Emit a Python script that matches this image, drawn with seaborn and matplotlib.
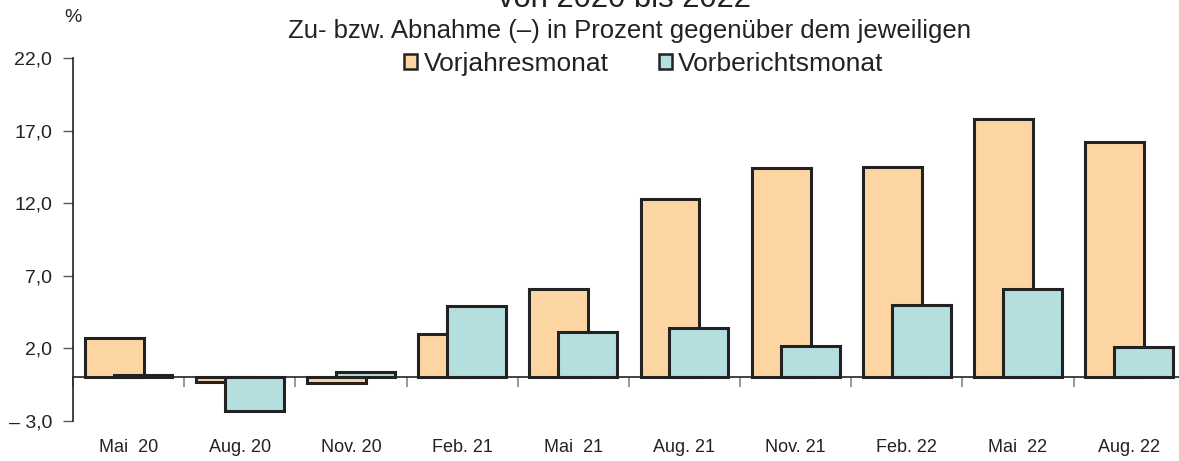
import numpy as np
import pandas as pd
import seaborn as sns
import matplotlib
matplotlib.use("Agg")
import matplotlib.pyplot as plt
from matplotlib.ticker import FixedLocator, FuncFormatter

# Data
months = ["Mai  20", "Aug. 20", "Nov. 20", "Feb. 21", "Mai  21",
          "Aug. 21", "Nov. 21", "Feb. 22", "Mai  22", "Aug. 22"]
vorjahr = [2.7, -0.3, -0.4, 3.0, 6.1, 12.3, 14.4, 14.5, 17.8, 16.2]
vorbericht = [0.2, -2.3, 0.35, 4.9, 3.1, 3.4, 2.2, 5.0, 6.1, 2.1]
series = ["Vorjahresmonat", "Vorberichtsmonat"]
colors = ["#FDD5A3", "#B5DEDE"]

df = pd.DataFrame({
    "Monat": months * 2,
    "Wert": vorjahr + vorbericht,
    "Reihe": [series[0]] * len(months) + [series[1]] * len(months),
})

sns.set_style("white")
plt.rcParams["font.family"] = ["Liberation Sans", "DejaVu Sans"]

fig = plt.figure(figsize=(11.79, 4.61), dpi=100)
ax = fig.add_axes([0.0619, 0.0868, 0.943, 0.787])

sns.barplot(data=df, x="Monat", y="Wert", hue="Reihe", palette=colors,
            saturation=1, edgecolor="#222222", linewidth=2.2, ax=ax,
            legend=False, width=0.52)

# overlapping bars: widen each bar around its own centre
for p in ax.patches:
    c = p.get_x() + p.get_width() / 2
    p.set_width(0.53)
    p.set_x(c - 0.265)

ax.set_xlim(-0.5, len(months) - 0.5)
ax.set_ylim(-3, 22)
ax.set_xlabel("")
ax.set_ylabel("")

for s in ["top", "right"]:
    ax.spines[s].set_visible(False)
ax.spines["left"].set_color("#222222")
ax.spines["left"].set_linewidth(1.2)
ax.spines["bottom"].set_position(("data", 0))
ax.spines["bottom"].set_color("#222222")
ax.spines["bottom"].set_linewidth(1.2)

yt = [-3, 2, 7, 12, 17, 22]
ax.yaxis.set_major_locator(FixedLocator(yt))
ax.yaxis.set_major_formatter(FuncFormatter(
    lambda v, pos: ("– " if v < 0 else "") + f"{abs(v):.1f}".replace(".", ",")))
ax.tick_params(axis="y", left=True, length=7, width=1, color="#555555",
               labelsize=14, pad=8, labelcolor="#222222")

ax.xaxis.set_minor_locator(FixedLocator(np.arange(-0.5, len(months), 1.0)))
ax.tick_params(axis="x", which="minor", bottom=True, length=7, width=1.2,
               color="#888888")
ax.tick_params(axis="x", which="major", bottom=True, length=0, pad=44,
               labelsize=13, labelcolor="#222222")

fig.text(0.0615, 0.962, "%", ha="center", va="center", fontsize=14,
         color="#222222")
fig.text(0.530, 0.985, "von 2020 bis 2022", ha="center", va="baseline",
         fontsize=22.3, color="#222222")
fig.text(0.534, 0.932, "Zu- bzw. Abnahme (–) in Prozent gegenüber dem jeweiligen",
         ha="center", va="center", fontsize=18.5, color="#222222")

handles = [plt.Rectangle((0, 0), 1, 1, facecolor=c, edgecolor="#222222",
                         linewidth=1.8) for c in colors]
fig.legend(handles, series, loc="center", bbox_to_anchor=(0.546, 0.862),
           ncol=2, frameon=False, fontsize=19, handlelength=0.5,
           handleheight=0.5, handletextpad=0.25, columnspacing=1.9,
           labelcolor="#222222")

fig.savefig("out.png", dpi=100)
